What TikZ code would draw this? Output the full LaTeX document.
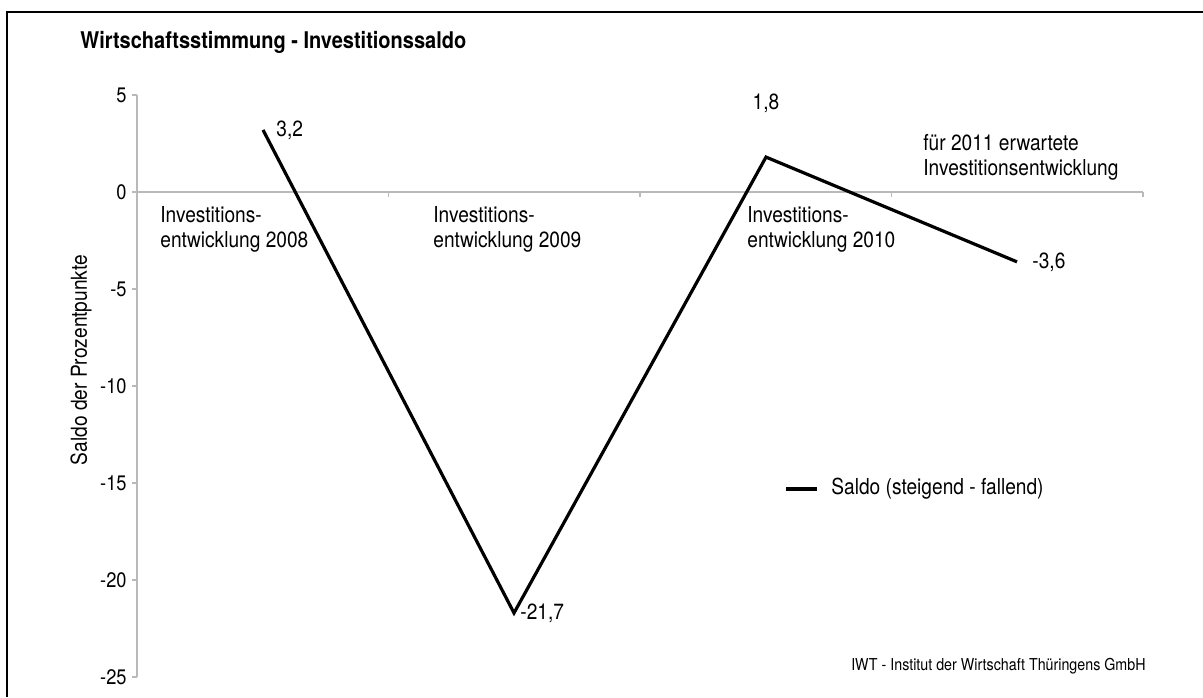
\documentclass[tikz,border=0pt]{standalone}
\usepackage{fontspec}
\setmainfont{TeX Gyre Heros}[FakeStretch=0.87]
\usepackage{tikz}
\usetikzlibrary{
        positioning
    }
\tikzset{>=stealth,auto,node distance=1cm}
\tikzset{lbl/.style={font=\fontsize{11}{12.5}\selectfont,inner sep=0pt,align=left}}
\tikzset{ticklbl/.style={font=\fontsize{10.5}{12}\selectfont,inner sep=0pt}}
\tikzset{axis/.style={draw=gray!55,line width=0.6pt}}
\tikzset{saldo/.style={line width=1.6pt,line join=miter}}

\begin{document}
\begin{tikzpicture}[x=0.5pt,y=-0.5pt]
    \useasboundingbox (0,0) rectangle (1203,697);
    % frame
    \draw[line width=0.9pt] (7,697) -- (7,12) -- (1203,12);
    \node[anchor=base west,inner sep=0pt,font=\bfseries\fontsize{11.5}{13}\selectfont] (title) at (80,48) {Wirtschaftsstimmung - Investitionssaldo};
    % axes
    \draw[axis] (137,95) -- (137,677);
    \draw[axis] (137,192) -- (1143,192);
    \foreach \v [count=\i] in {5,0,-5,-10,-15,-20,-25} {
        \draw[axis] (132,{192-19.4*\v}) -- (137,{192-19.4*\v});
        \node[ticklbl,anchor=east] (ytick\i) at (127,{192-19.4*\v}) {\v};
    }
    \foreach \x in {388.5,640,891.5,1143}
        \draw[axis] (\x,192) -- (\x,197);
    \node[lbl,rotate=90] (ytitle) at (81,360) {Saldo der Prozentpunkte};
    % categories
    \node[lbl,anchor=north west] (c2008) at (160,206) {Investitions-\\entwicklung 2008};
    \node[lbl,anchor=north west] (c2009) at (433,206) {Investitions-\\entwicklung 2009};
    \node[lbl,anchor=north west] (c2010) at (747,206) {Investitions-\\entwicklung 2010};
    \node[lbl,anchor=north west] (c2011) at (923,134) {für 2011 erwartete\\Investitionsentwicklung};
    % data
    \coordinate (p1) at (263,{192-19.4*3.2});
    \coordinate (p2) at (514,{192+19.4*21.7});
    \coordinate (p3) at (766,{192-19.4*1.8});
    \coordinate (p4) at (1017,{192+19.4*3.6});
    \draw[saldo] (p1) -- (p2) -- (p3) -- (p4);
    \node[lbl,right=6.5pt of p1] (v1) {3,2};
    \node[lbl,right=3pt of p2] (v2) {-21,7};
    \node[lbl,above=22pt of p3] (v3) {1,8};
    \node[lbl,right=7.5pt of p4] (v4) {-3,6};
    % legend
    \coordinate (la) at (786,489);
    \coordinate (lb) at (817,489);
    \draw[saldo] (la) -- (lb);
    \node[lbl,right=7pt of lb] (legtxt) {Saldo (steigend - fallend)};
    \node[anchor=east,inner sep=0pt,font=\fontsize{8.2}{10}\selectfont] (src) at (1146,666) {IWT - Institut der Wirtschaft Thüringens GmbH};
\end{tikzpicture}
\end{document}
